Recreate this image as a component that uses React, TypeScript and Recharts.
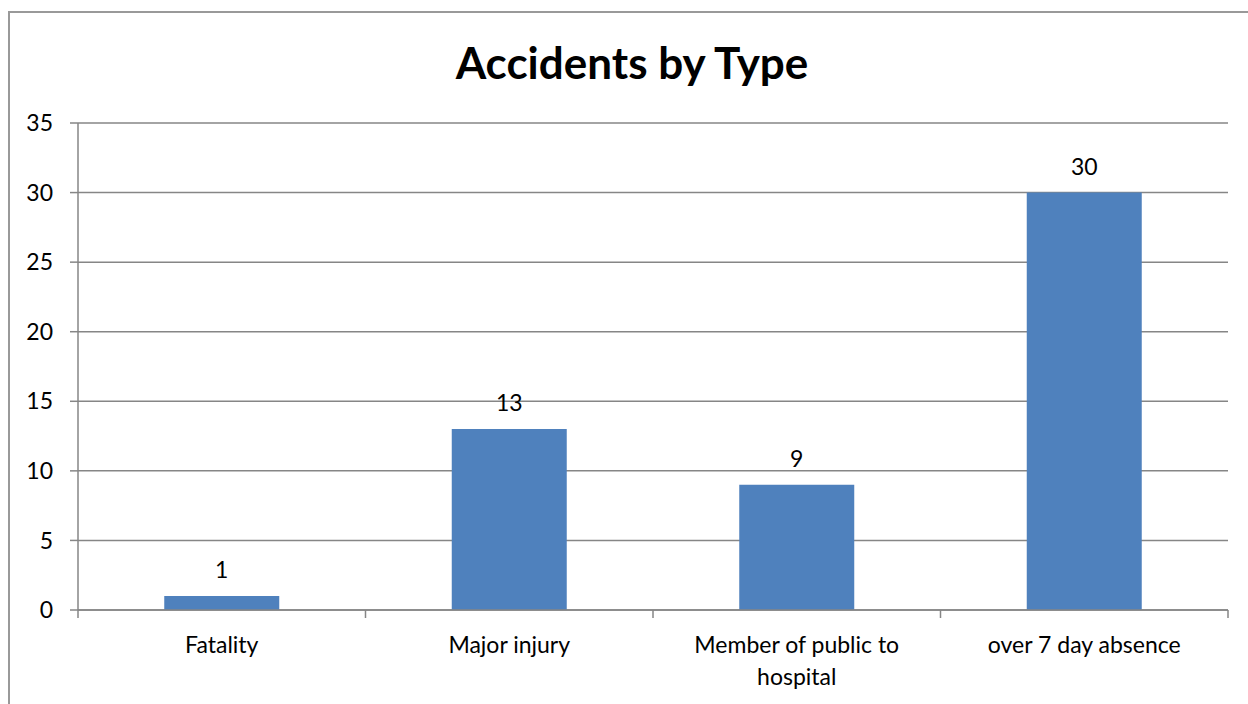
import React from "react";
import {
  BarChart,
  Bar,
  XAxis,
  YAxis,
  CartesianGrid,
  LabelList,
} from "recharts";

const categories = [
  "Fatality",
  "Major injury",
  "Member of public to hospital",
  "over 7 day absence",
];
const accidentCounts = [1, 13, 9, 30];
const yTicks = [0, 5, 10, 15, 20, 25, 30, 35];

const data = categories.map((name, i) => ({ name, value: accidentCounts[i] }));

const FONT = "Lato, 'Open Sans', sans-serif";
const GRID = "#868686";
const BAR = "#4F81BD";
const TICK_SIZE = 8;
const TICK_MARGIN = 18;
const MAX_LINE_CHARS = 20;

// greedy word wrap for the category labels
function wrapLabel(label: string): string[] {
  const lines: string[] = [];
  let current = "";
  for (const word of label.split(" ")) {
    const next = current ? current + " " + word : word;
    if (next.length > MAX_LINE_CHARS && current) {
      lines.push(current);
      current = word;
    } else {
      current = next;
    }
  }
  if (current) lines.push(current);
  return lines;
}

// category ticks sit between the bars, Excel style, so draw them on the band edges
function CategoryTick(props: any) {
  const { x, y, payload, index, visibleTicksCount } = props;
  const band = 1150 / categories.length;
  const axisY = y - TICK_SIZE - TICK_MARGIN;
  const isLast = index === (visibleTicksCount ?? categories.length) - 1;
  const lines = wrapLabel(String(payload.value));
  return (
    <g>
      <line x1={x - band / 2} y1={axisY} x2={x - band / 2} y2={axisY + TICK_SIZE} stroke={GRID} strokeWidth={1.5} />
      {isLast && (
        <line x1={x + band / 2} y1={axisY} x2={x + band / 2} y2={axisY + TICK_SIZE} stroke={GRID} strokeWidth={1.5} />
      )}
      <text x={x} y={y + 17} textAnchor="middle" fontSize={23} fill="#000" fontFamily={FONT}>
        {lines.map((line, i) => (
          <tspan key={i} x={x} dy={i === 0 ? 0 : 32}>
            {line}
          </tspan>
        ))}
      </text>
    </g>
  );
}

export default function App() {
  return (
    <div
      style={{
        position: "fixed",
        left: 0,
        top: 0,
        width: 1248,
        height: 704,
        overflow: "hidden",
        background: "#fff",
        fontFamily: FONT,
      }}
    >
      <div
        style={{
          position: "absolute",
          left: 8,
          top: 11,
          width: 1300,
          height: 800,
          borderLeft: "2px solid #999",
          borderTop: "2px solid #999",
        }}
      />
      <div
        style={{
          position: "absolute",
          left: 0,
          top: 36,
          width: 1264,
          textAlign: "center",
          fontSize: 44,
          fontWeight: 700,
          lineHeight: "52px",
          color: "#000",
        }}
      >
        Accidents by Type
      </div>
      <div style={{ position: "absolute", left: 0, top: 0 }}>
        <BarChart
          width={1248}
          height={704}
          data={data}
          margin={{ top: 123, right: 20, bottom: 24, left: 18 }}
          barCategoryGap="30%"
        >
          <CartesianGrid horizontal vertical={false} stroke={GRID} strokeWidth={1.5} />
          <XAxis
            dataKey="name"
            height={70}
            interval={0}
            axisLine={{ stroke: GRID, strokeWidth: 1.5 }}
            tickLine={false}
            tickSize={TICK_SIZE}
            tickMargin={TICK_MARGIN}
            tick={<CategoryTick />}
          />
          <YAxis
            width={60}
            domain={[0, 35]}
            ticks={yTicks}
            interval={0}
            axisLine={{ stroke: GRID, strokeWidth: 1.5 }}
            tickLine={{ stroke: GRID, strokeWidth: 1.5 }}
            tickSize={8}
            tickMargin={17}
            tick={{ fontSize: 23, fill: "#000", fontFamily: FONT }}
          />
          <Bar dataKey="value" fill={BAR} isAnimationActive={false}>
            <LabelList
              dataKey="value"
              position="top"
              offset={18}
              fill="#000"
              fontSize={23}
              fontFamily={FONT}
            />
          </Bar>
        </BarChart>
      </div>
    </div>
  );
}
